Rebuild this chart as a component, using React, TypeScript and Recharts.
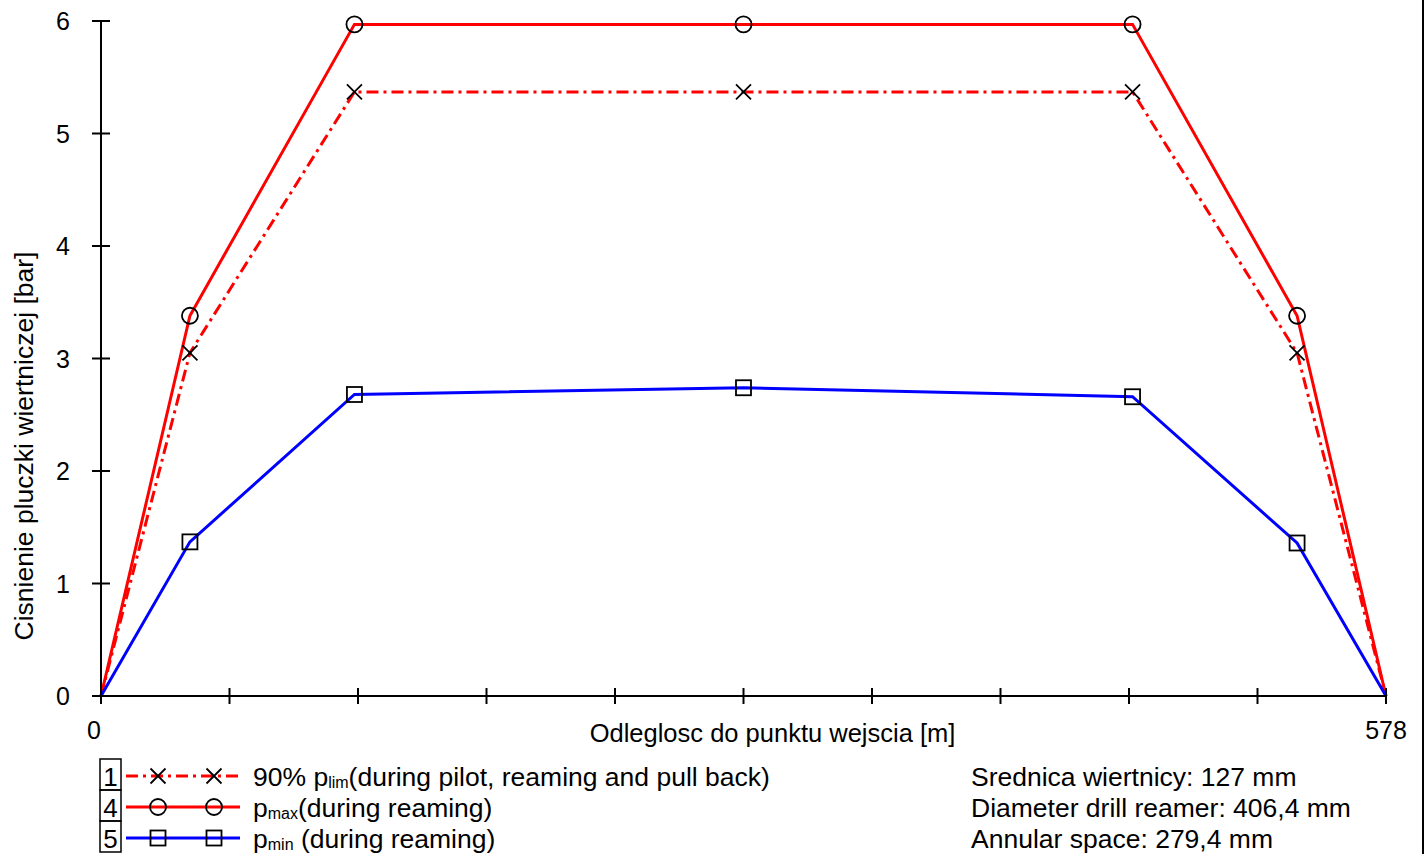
import React from "react";
import { LineChart, Line, XAxis, YAxis, Label } from "recharts";

const distance = [0, 40, 114, 289, 464, 538, 578];
const plim90 = [0, 3.05, 5.37, 5.37, 5.37, 3.05, 0];
const pmax = [0, 3.38, 5.97, 5.97, 5.97, 3.38, 0];
const pmin = [0, 1.37, 2.68, 2.74, 2.66, 1.36, 0];

const xTicks = [0, 57.8, 115.6, 173.4, 231.2, 289, 346.8, 404.6, 462.4, 520.2, 578];
const yTicks = [0, 1, 2, 3, 4, 5, 6];

const infoLines = [
  "Srednica wiertnicy: 127 mm",
  "Diameter drill reamer: 406,4 mm",
  "Annular space: 279,4 mm",
];

const data = distance.map((d, i) => ({
  d,
  plim90: plim90[i],
  pmax: pmax[i],
  pmin: pmin[i],
}));

const FONT = '"Liberation Sans", Arial, sans-serif';
const RED = "#ff0000";
const BLUE = "#0000ff";

type MarkerKind = "x" | "o" | "s";

function Marker({ kind, cx, cy }: { kind: MarkerKind; cx: number; cy: number }) {
  if (kind === "x") {
    const r = 7.5;
    return (
      <g stroke="#000" strokeWidth={1.8}>
        <line x1={cx - r} y1={cy - r} x2={cx + r} y2={cy + r} />
        <line x1={cx - r} y1={cy + r} x2={cx + r} y2={cy - r} />
      </g>
    );
  }
  if (kind === "o") {
    return <circle cx={cx} cy={cy} r={8} fill="none" stroke="#000" strokeWidth={1.8} />;
  }
  return <rect x={cx - 7.5} y={cy - 7.5} width={15} height={15} fill="none" stroke="#000" strokeWidth={1.8} />;
}

const makeDot = (kind: MarkerKind) => (props: any) => {
  const { cx, cy, index } = props;
  if (index === 0 || index === data.length - 1) return <g key={`d-${kind}-${index}`} />;
  return (
    <g key={`d-${kind}-${index}`}>
      <Marker kind={kind} cx={cx} cy={cy} />
    </g>
  );
};

const YTick = (props: any) => {
  const { x, y, payload } = props;
  return (
    <g>
      <line x1={x - 9} x2={x + 9} y1={y} y2={y} stroke="#000" strokeWidth={2} />
      <text x={x - 31} y={y + 9} textAnchor="end" fontSize={25} fontFamily={FONT} fill="#000">
        {payload.value}
      </text>
    </g>
  );
};

const XTick = (props: any) => {
  const { x, y, payload, index } = props;
  const last = index === xTicks.length - 1;
  return (
    <g>
      <line x1={x} x2={x} y1={y - 8} y2={y + 8} stroke="#000" strokeWidth={2} />
      {index === 0 && (
        <text x={x} y={y + 43} textAnchor="end" fontSize={25} fontFamily={FONT} fill="#000">
          {payload.value}
        </text>
      )}
      {last && (
        <text x={x} y={y + 43} textAnchor="middle" fontSize={25} fontFamily={FONT} fill="#000">
          {payload.value}
        </text>
      )}
    </g>
  );
};

const legendRows = [
  { num: "1", main: "90% p", sub: "lim", rest: "(during pilot, reaming and pull back)", color: RED, dash: "12 5 3 5", kind: "x" as MarkerKind },
  { num: "4", main: "p", sub: "max", rest: "(during reaming)", color: RED, dash: undefined, kind: "o" as MarkerKind },
  { num: "5", main: "p", sub: "min", rest: " (during reaming)", color: BLUE, dash: undefined, kind: "s" as MarkerKind },
];

export default function App() {
  return (
    <div style={{ position: "absolute", left: 0, top: 0, width: 1426, height: 854, background: "#fff" }}>
      <LineChart
        width={1426}
        height={854}
        data={data}
        margin={{ top: 21, right: 40, bottom: 118, left: 41 }}
      >
        <XAxis
          dataKey="d"
          type="number"
          domain={[0, 578]}
          ticks={xTicks}
          interval={0}
          height={40}
          stroke="#000"
          strokeWidth={2}
          tickSize={0}
          tickMargin={0}
          tickLine={false}
          tick={<XTick />}
          tickFormatter={(v: number) => String(v)}
        >
          <Label
            content={(p: any) => {
              const vb = p.viewBox;
              return (
                <text
                  x={vb.x + vb.width / 2 + 29}
                  y={vb.y + 46}
                  textAnchor="middle"
                  fontSize={25.5}
                  fontFamily={FONT}
                  fill="#000"
                >
                  Odleglosc do punktu wejscia [m]
                </text>
              );
            }}
          />
        </XAxis>
        <YAxis
          type="number"
          domain={[0, 6]}
          ticks={yTicks}
          interval={0}
          width={60}
          stroke="#000"
          strokeWidth={2}
          tickSize={0}
          tickMargin={0}
          tickLine={false}
          tick={<YTick />}
        >
          <Label
            content={(p: any) => {
              const vb = p.viewBox;
              const cx = vb.x - 8;
              const cy = vb.y + vb.height / 2 + 87.5;
              return (
                <text
                  x={cx}
                  y={cy}
                  transform={`rotate(-90 ${cx} ${cy})`}
                  textAnchor="middle"
                  fontSize={26.5}
                  fontFamily={FONT}
                  fill="#000"
                >
                  Cisnienie pluczki wiertniczej [bar]
                </text>
              );
            }}
          />
        </YAxis>
        <Line
          dataKey="plim90"
          stroke={RED}
          strokeWidth={3}
          strokeDasharray="12 5 3 5"
          dot={makeDot("x")}
          activeDot={false}
          isAnimationActive={false}
        />
        <Line
          dataKey="pmax"
          stroke={RED}
          strokeWidth={3}
          dot={makeDot("o")}
          activeDot={false}
          isAnimationActive={false}
        />
        <Line
          dataKey="pmin"
          stroke={BLUE}
          strokeWidth={3}
          dot={makeDot("s")}
          activeDot={false}
          isAnimationActive={false}
        />
      </LineChart>

      <svg
        width={1426}
        height={114}
        style={{ position: "absolute", left: 0, top: 740 }}
        fontFamily={FONT}
      >
        {legendRows.map((r, i) => {
          const cy = 36 + i * 31;
          return (
            <g key={r.num}>
              <rect x={100} y={cy - 17} width={21} height={31} fill="none" stroke="#000" strokeWidth={1.5} />
              <text x={110.5} y={cy + 10} textAnchor="middle" fontSize={26} fill="#000">
                {r.num}
              </text>
              <line x1={126} x2={240} y1={cy} y2={cy} stroke={r.color} strokeWidth={3} strokeDasharray={r.dash} />
              <Marker kind={r.kind} cx={158} cy={cy} />
              <Marker kind={r.kind} cx={214} cy={cy} />
              <text x={253} y={cy + 10} fontSize={26.5} fill="#000">
                {r.main}
                <tspan fontSize={16} dy={2}>{r.sub}</tspan>
                <tspan fontSize={26.5} dy={-2}>{r.rest}</tspan>
              </text>
            </g>
          );
        })}
        {infoLines.map((t, i) => (
          <text key={t} x={971} y={46 + i * 31} fontSize={26.5} fill="#000">
            {t}
          </text>
        ))}
      </svg>

      <div style={{ position: "absolute", left: 1422, top: 0, width: 2, height: 854, background: "#000" }} />
    </div>
  );
}
